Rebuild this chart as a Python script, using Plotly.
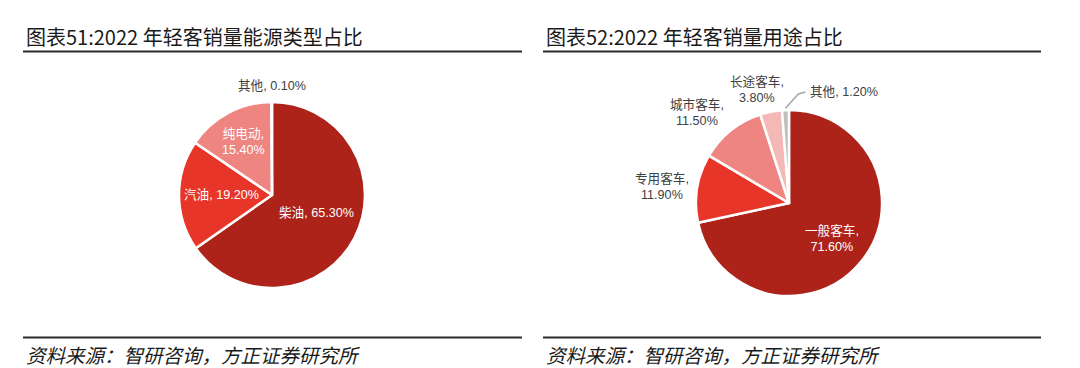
import math
import plotly.graph_objects as go

W, H = 1080, 368

# ---- data ----
energy_labels = ["柴油", "汽油", "纯电动", "其他"]
energy_values = [65.3, 19.2, 15.4, 0.1]
use_labels = ["一般客车", "专用客车", "城市客车", "长途客车", "其他"]
use_values = [71.6, 11.9, 11.5, 3.8, 1.2]

title_left = "图表51:2022 年轻客销量能源类型占比"
title_right = "图表52:2022 年轻客销量用途占比"
source_text = "资料来源：智研咨询，方正证券研究所"

# ---- styles ----
energy_colors = ["#AD2219", "#E8352A", "#EE8580", "#BFBFBF"]
use_colors = ["#AD2219", "#E8352A", "#EE8580", "#F4B8B6", "#BFBFBF"]
LABEL_FONT = "Liberation Sans, Noto Sans CJK SC, sans-serif"
CJK_FONT = "Noto Sans CJK SC, sans-serif"
LABEL_SIZE = 12.6

# pie geometry (pixels): center x, center y, radius
left_geo = (272, 195, 93)
right_geo = (789, 203, 93)

# label placement styles: radius factor, text color, multiline, xshift, yshift
energy_lab_style = [
    (0.52, "white", False, 2, 4),
    (0.58, "white", False, 3, 0),
    (0.65, "white", True, 0, 0),
    (1.17, "#404040", False, 0, 0),
]
use_lab_style = [
    (0.60, "white", True, 0, 0),
    (1.38, "#404040", True, 0, -4),
    (1.39, "#404040", True, -11, -10),
    (1.27, "#404040", True, -9, -2),
    (None, "#404040", False, 0, 0),
]


def domain(geo):
    cx, cy, r = geo
    return dict(x=[(cx - r) / W, (cx + r) / W], y=[1 - (cy + r) / H, 1 - (cy - r) / H])


def fmt(lbl, v, multiline):
    sep = ",<br>" if multiline else ", "
    return f"{lbl}{sep}{v:.2f}%"


fig = go.Figure()
for labels, values, colors, geo in [
    (energy_labels, energy_values, energy_colors, left_geo),
    (use_labels, use_values, use_colors, right_geo),
]:
    fig.add_trace(go.Pie(
        labels=labels, values=values, sort=False, direction="clockwise", rotation=0,
        marker=dict(colors=colors, line=dict(color="white", width=2.5)),
        textinfo="none", hoverinfo="label+percent", showlegend=False,
        domain=domain(geo),
    ))

annotations = []
shapes = []


def mid_angles(values):
    tot = sum(values)
    out, cum = [], 0
    for v in values:
        out.append((cum + v / 2) / tot * 2 * math.pi)
        cum += v
    return out


def add_labels(labels, values, styles, geo):
    cx, cy, r = geo
    for lbl, v, th, st in zip(labels, values, mid_angles(values), styles):
        f, col, ml, xs, ys = st
        if f is None:
            # leader-line label (small slice)
            x0 = cx + 1.02 * r * math.sin(th)
            y0 = cy - 1.02 * r * math.cos(th)
            ly = cy - r - 18
            x1 = x0 + 13
            x2 = x1 + 7
            shapes.append(dict(
                type="path", xref="paper", yref="paper",
                path=f"M {x0/W},{1-y0/H} L {x1/W},{1-(ly+2)/H} L {x2/W},{1-ly/H}",
                line=dict(color="#A6A6A6", width=1.5),
            ))
            annotations.append(dict(
                x=(x2 + 3) / W, y=1 - ly / H, xref="paper", yref="paper",
                xanchor="left", yanchor="middle", showarrow=False,
                text=fmt(lbl, v, ml), font=dict(family=LABEL_FONT, size=LABEL_SIZE, color=col),
            ))
            continue
        x = cx + f * r * math.sin(th)
        y = cy - f * r * math.cos(th)
        annotations.append(dict(
            x=x / W, y=1 - y / H, xref="paper", yref="paper",
            xanchor="center", yanchor="middle", showarrow=False, align="center",
            xshift=xs, yshift=ys,
            text=fmt(lbl, v, ml), font=dict(family=LABEL_FONT, size=LABEL_SIZE, color=col),
        ))


add_labels(energy_labels, energy_values, energy_lab_style, left_geo)
add_labels(use_labels, use_values, use_lab_style, right_geo)

# titles, rules and source lines
for title, x0, x1 in [(title_left, 23, 522), (title_right, 543, 1041)]:
    annotations.append(dict(
        x=(x0 + 1) / W, y=1 - 36 / H, xref="paper", yref="paper",
        xanchor="left", yanchor="middle", showarrow=False,
        text=title, font=dict(family=CJK_FONT, size=20, color="#1a1a1a"),
    ))
    annotations.append(dict(
        x=(x0 + 1) / W, y=1 - 354 / H, xref="paper", yref="paper",
        xanchor="left", yanchor="middle", showarrow=False,
        text=f"<i>{source_text}</i>", font=dict(family=CJK_FONT, size=19.5, color="#1a1a1a"),
    ))
    for yy in (51.5, 337.5):
        shapes.append(dict(
            type="line", xref="paper", yref="paper",
            x0=x0 / W, x1=x1 / W, y0=1 - yy / H, y1=1 - yy / H,
            line=dict(color="#2b2b2b", width=2),
        ))

fig.update_layout(
    width=W, height=H, margin=dict(l=0, r=0, t=0, b=0),
    paper_bgcolor="white", plot_bgcolor="white",
    annotations=annotations, shapes=shapes,
)
fig.write_html(
    "out.html",
    config={"displayModeBar": False},
    post_script="document.body.style.margin='0';document.body.style.overflow='hidden';",
)
